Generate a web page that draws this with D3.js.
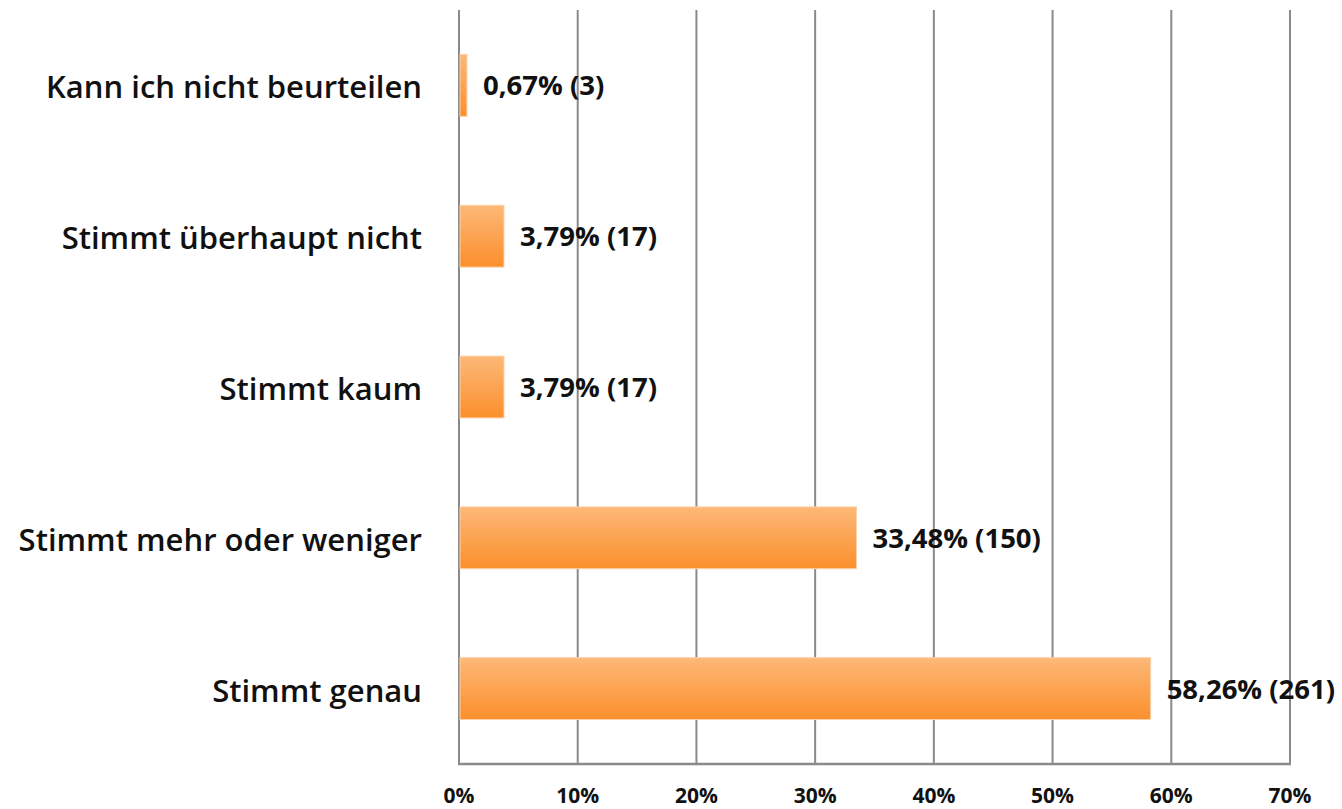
<!DOCTYPE html>
<html><head><meta charset="utf-8">
<script src="https://cdn.jsdelivr.net/npm/d3@7"></script>
<style>html,body{margin:0;padding:0;background:#fff;}</style>
</head><body>
<svg id="chart" width="1342" height="809"></svg>
<script>
const categories = ["Kann ich nicht beurteilen","Stimmt überhaupt nicht","Stimmt kaum","Stimmt mehr oder weniger","Stimmt genau"];
const percents = [0.67, 3.79, 3.79, 33.48, 58.26];
const counts = [3, 17, 17, 150, 261];
const valueLabels = ["0,67% (3)","3,79% (17)","3,79% (17)","33,48% (150)","58,26% (261)"];
const tickValues = [0,10,20,30,40,50,60,70];
const tickLabels = ["0%","10%","20%","30%","40%","50%","60%","70%"];

(function(){
const svg = d3.select("#chart");
const mLeft = 459, mRight = 1290, mTop = 10, mBottom = 764;
const font = "'Open Sans', 'Noto Sans', sans-serif";
const x = d3.scaleLinear().domain([0,70]).range([mLeft,mRight]);
const y = d3.scaleBand().domain(categories).range([mTop,mBottom]).paddingInner(0.59).paddingOuter(0.295);

const defs = svg.append("defs");
const grad = defs.append("linearGradient").attr("id","barGrad").attr("x1",0).attr("y1",0).attr("x2",0).attr("y2",1);
grad.append("stop").attr("offset","0%").attr("stop-color","#fdb878");
grad.append("stop").attr("offset","100%").attr("stop-color","#fb8f2c");

svg.append("g").selectAll("line").data(tickValues).join("line")
  .attr("x1",d=>x(d)).attr("x2",d=>x(d)).attr("y1",mTop).attr("y2",mBottom)
  .attr("stroke","#8a8a8a").attr("stroke-width",2);
svg.append("line").attr("x1",x(0)-1).attr("x2",x(70)+1).attr("y1",mBottom).attr("y2",mBottom)
  .attr("stroke","#8a8a8a").attr("stroke-width",2.5);

svg.append("g").selectAll("text").data(tickValues).join("text")
  .attr("x",d=>x(d)).attr("y",803).attr("text-anchor","middle")
  .attr("font-family",font).attr("font-weight","bold")
  .attr("font-size",21).attr("fill","#111")
  .text((d,i)=>tickLabels[i]);

svg.append("g").selectAll("rect").data(categories).join("rect")
  .attr("x",x(0)+1).attr("y",d=>y(d)).attr("height",y.bandwidth())
  .attr("width",(d,i)=>x(percents[i])-x(0)-1)
  .attr("fill","url(#barGrad)").attr("stroke","#fdd2a8").attr("stroke-width",1);

svg.append("g").selectAll("text").data(categories).join("text")
  .attr("x",(d,i)=>x(percents[i])+16).attr("y",d=>y(d)+y.bandwidth()/2+10)
  .attr("font-family",font).attr("font-weight","bold")
  .attr("font-size",27.5).attr("fill","#111")
  .text((d,i)=>valueLabels[i]);

svg.append("g").selectAll("text").data(categories).join("text")
  .attr("x",422).attr("y",d=>y(d)+y.bandwidth()/2+13)
  .attr("text-anchor","end")
  .attr("font-family",font).attr("font-weight",600)
  .attr("font-size",31).attr("fill","#111")
  .text(d=>d);
})();
</script>
</body></html>
